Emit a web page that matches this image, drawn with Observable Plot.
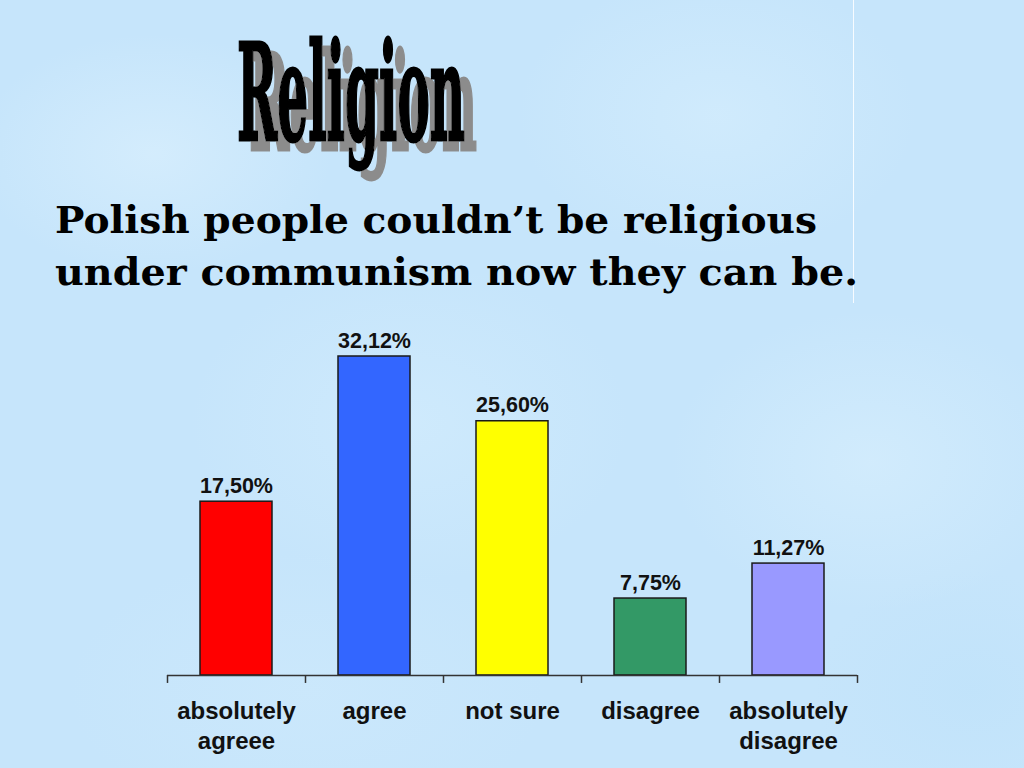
<!DOCTYPE html>
<html>
<head>
<meta charset="utf-8">
<script src="https://cdn.jsdelivr.net/npm/d3@7"></script>
<script src="https://cdn.jsdelivr.net/npm/@observablehq/plot@0.6"></script>
<style>
  html, body { margin: 0; padding: 0; }
  body {
    width: 1024px; height: 768px; overflow: hidden; position: relative;
    background-color: #c6e5fb;
    background-image:
      radial-gradient(ellipse 180px 120px at 15% 20%, rgba(215,238,253,0.8), rgba(215,238,253,0)),
      radial-gradient(ellipse 200px 140px at 70% 15%, rgba(212,237,253,0.7), rgba(212,237,253,0)),
      radial-gradient(ellipse 220px 160px at 40% 55%, rgba(210,236,253,0.7), rgba(210,236,253,0)),
      radial-gradient(ellipse 200px 150px at 85% 60%, rgba(214,238,253,0.7), rgba(214,238,253,0)),
      radial-gradient(ellipse 240px 140px at 30% 90%, rgba(205,233,252,0.7), rgba(205,233,252,0)),
      radial-gradient(ellipse 160px 120px at 95% 90%, rgba(190,226,250,0.6), rgba(190,226,250,0));
    font-family: "Liberation Sans", Arial, sans-serif;
  }
  #header { position: absolute; left: 0; top: 0; }
  #chart { position: absolute; left: 0; top: 300px; }
  #vline { position: absolute; left: 853px; top: 0; width: 1px; height: 303px; background: rgba(255,255,255,0.85); }
</style>
</head>
<body>
<div id="vline"></div>
<svg id="header" width="1024" height="300">
  <defs>
    <filter id="shadow" x="-10%" y="-10%" width="130%" height="140%">
      <feOffset in="SourceAlpha" dx="12" dy="10" result="off"/>
      <feFlood flood-color="#8c8c8c"/>
      <feComposite in2="off" operator="in" result="sh"/>
      <feMerge><feMergeNode in="sh"/><feMergeNode in="SourceGraphic"/></feMerge>
    </filter>
  </defs>
  <g font-family="'DejaVu Serif', serif" font-weight="bold">
    <text x="237" y="140" font-size="134" textLength="228" lengthAdjust="spacingAndGlyphs" fill="#000" stroke="#000" stroke-width="3" filter="url(#shadow)">Religion</text>
    <text x="55" y="233" font-size="38" textLength="762" lengthAdjust="spacingAndGlyphs" fill="#000">Polish people couldn’t be religious</text>
    <text x="55" y="285" font-size="38" textLength="803" lengthAdjust="spacingAndGlyphs" fill="#000">under communism now they can be.</text>
  </g>
</svg>
<div id="chart"></div>
<script>
// ---- data ----
const categories = ["absolutely agreee", "agree", "not sure", "disagree", "absolutely disagree"];
const tickLabels = ["absolutely\nagreee", "agree", "not sure", "disagree", "absolutely\ndisagree"];
const values = [17.50, 32.12, 25.60, 7.75, 11.27];
const barColors = ["#ff0000", "#3366ff", "#ffff00", "#339966", "#9999ff"];

const data = categories.map((c, i) => ({category: c, value: values[i], label: tickLabels[i]}));
const fmt = v => v.toFixed(2).replace(".", ",") + "%";

const width = 1024, height = 468;
const marginLeft = 167, marginRight = 167;
const step = (width - marginLeft - marginRight) / categories.length;

const chart = Plot.plot({
  width, height,
  marginLeft, marginRight,
  marginTop: 27.4, marginBottom: 93,
  style: {background: "transparent", overflow: "visible", fontFamily: "'Liberation Sans', Arial, sans-serif"},
  x: {domain: categories, paddingInner: 0.48, paddingOuter: 0.24, axis: null},
  y: {domain: [0, 35], axis: null},
  color: {domain: categories, range: barColors},
  marks: [
    Plot.barY(data, {x: "category", y: "value", fill: "category", stroke: "#1a1a1a", strokeWidth: 1.5}),
    Plot.ruleY([0], {stroke: "#333", strokeWidth: 1.5}),
    Plot.ruleX(categories, {x: d => d, dx: -step / 2, y1: 0, y2: -0.8, stroke: "#333", strokeWidth: 1.5}),
    Plot.ruleX(categories.slice(-1), {x: d => d, dx: step / 2, y1: 0, y2: -0.8, stroke: "#333", strokeWidth: 1.5}),
    Plot.text(data, {x: "category", y: "value", text: d => fmt(d.value), dy: -9, lineAnchor: "bottom",
      fontSize: 21.5, fontWeight: "bold", fill: "#111"}),
    Plot.text(data, {x: "category", y: 0, text: "label", dy: 22, lineAnchor: "top", lineHeight: 1.25,
      fontSize: 24, fontWeight: "bold", fill: "#111"})
  ]
});
document.getElementById("chart").appendChild(chart);
</script>
</body>
</html>
